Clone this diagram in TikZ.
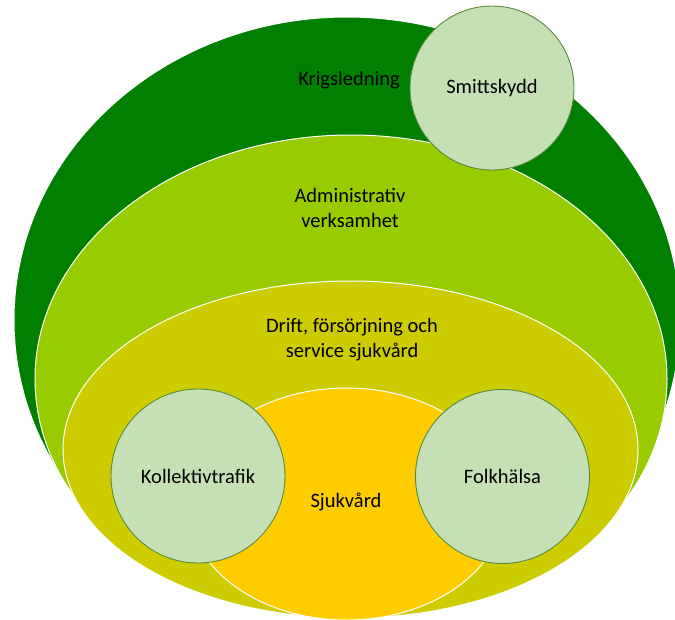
\documentclass[tikz,border=0pt]{standalone}
\usepackage{fontspec}
\setmainfont{Carlito}
\usetikzlibrary{shapes.geometric}
\definecolor{darkgr}{HTML}{007F00}
\definecolor{lightgr}{HTML}{99CC00}
\definecolor{olivegr}{HTML}{CCCC00}
\definecolor{yellowgr}{HTML}{FFCC00}
\definecolor{circfill}{HTML}{C5E0B4}
\definecolor{circline}{HTML}{5A8A3C}
\tikzset{
  ring/.style={ellipse, inner sep=0pt, outer sep=0pt, draw=white, line width=1pt},
  bubble/.style={circle, inner sep=0pt, outer sep=0pt, minimum size=#1, fill=circfill, draw=circline, line width=0.9pt, font=\fontsize{20.5}{25}\selectfont},
  lbl/.style={align=center, inner sep=0pt, font=\fontsize{20.5}{25}\selectfont}
}
\begin{document}
\begin{tikzpicture}[x=1pt,y=-1pt]
\useasboundingbox (0,0) rectangle (675,619);
\clip (0,0) rectangle (675,619);
\begin{scope}
  \clip (0,0) -- (675,0) -- (675,411) -- (0,475.5) -- cycle;
  \node[ring, fill=darkgr, minimum width=666pt, minimum height=606pt] (krig) at (347,320) {};
\end{scope}
\begin{scope}
  \clip (0,0) -- (675,0) -- (675,501.5) -- (0,499) -- cycle;
  \node[ring, fill=lightgr, minimum width=632pt, minimum height=488pt] (adm) at (351,379) {};
\end{scope}
\node[ring, fill=olivegr, minimum width=575pt, minimum height=337pt] (drift) at (350.5,449.5) {};
\node[ring, fill=yellowgr, minimum width=317pt, minimum height=232pt] (sjuk) at (346.5,504) {};
\node[lbl] (tkrig) at (349,80) {Krigsledning};
\node[lbl] (tadm) at (350,207.5) {Administrativ\\verksamhet};
\node[lbl] (tdrift) at (352,339.5) {Drift, försörjning och\\service sjukvård};
\node[lbl] (tsjuk) at (346,502) {Sjukvård};
\node[bubble=164pt] (smitt) at (492,88) {Smittskydd};
\node[bubble=174pt] (koll) at (198,476) {Kollektivtrafik};
\node[bubble=174pt] (folk) at (502.5,476.5) {Folkhälsa};
\end{tikzpicture}
\end{document}
